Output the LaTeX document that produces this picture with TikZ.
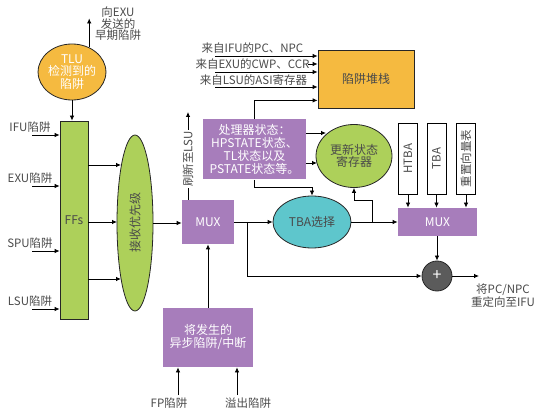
\documentclass[tikz,border=0pt]{standalone}
\usepackage{fontspec}
\setmainfont{Noto Sans CJK SC}
\usetikzlibrary{arrows.meta,shapes.geometric}
\definecolor{trapgold}{HTML}{F5BA40}
\definecolor{leafgreen}{HTML}{ADD05A}
\definecolor{muxpurple}{HTML}{A77DBB}
\definecolor{tbacyan}{HTML}{5EC6CC}
\definecolor{plusgray}{HTML}{5B5B5B}
\definecolor{textgray}{HTML}{4A4A4A}
\tikzset{
  lbl/.style={text=textgray, font=\fontsize{11.5}{11.5}\selectfont, align=center, inner sep=0pt},
  muxbox/.style={fill=muxpurple, text=white, font=\fontsize{12}{13}\selectfont, align=center, inner sep=0pt},
  blob/.style={ellipse, draw=black!85, inner sep=0pt, align=center, font=\fontsize{12}{12.5}\selectfont},
  regbox/.style={draw=black, fill=white, rotate=90, minimum width=71pt, minimum height=19pt, inner sep=0pt, text=textgray, font=\fontsize{11.5}{12}\selectfont},
}
\begin{document}
\begin{tikzpicture}[x=1pt,y=-1pt,>={Latex[length=5pt,width=4.5pt]},line width=0.8pt]
\useasboundingbox (0,0) rectangle (541,414);
% TLU and FFs
\node[blob, fill=trapgold, text=white, minimum width=58pt, minimum height=56pt] (tlu) at (72,72) {TLU\\检测到的\\陷阱};
\node[lbl] (toexu) at (118,24) {向EXU\\发送的\\早期陷阱};
\draw[->] (tlu.55) -- ++(0,-29);
\node[draw=black!85, fill=leafgreen, minimum width=28pt, minimum height=198pt, inner sep=0pt, text=textgray, font=\fontsize{12}{12}\selectfont] (ffs) at (74,220) {FFs};
\draw[->] (tlu.south) -- (tlu.south |- ffs.north);
% trap inputs
\foreach \n/\y in {IFU/135,EXU/186,SPU/251,LSU/309}{
  \node[lbl] (in\n) at (30,\y-8) {\n 陷阱};
  \coordinate (tail\n) at (32,\y);
  \draw[->] (tail\n) -- (ffs.west |- tail\n);
}
% priority
\node[blob, fill=leafgreen, minimum width=36pt, minimum height=176pt] (prio) at (135,223) {};
\node[lbl, rotate=90, font=\fontsize{12}{12}\selectfont] (priolbl) at (prio.center) {接收优先级};
\foreach \y/\xe in {165/121,222/117,279/121}{
  \draw[->] (ffs.east |- 0,\y) -- (\xe,\y);
}
% first MUX
\node[muxbox, minimum width=52pt, minimum height=44pt] (muxa) at (208,222) {MUX};
\draw[->] (prio.east) -- (prio.east -| muxa.west);
\coordinate (lsutip) at (188,112);
\draw[->] (muxa.north -| lsutip) -- (lsutip);
\node[lbl, rotate=90, fill=white, inner sep=1pt] (lsulbl) at (188,159) {刷新至LSU};
% async traps
\node[muxbox, minimum width=90pt, minimum height=59pt] (async) at (208,337.5) {将发生的\\异步陷阱/中断};
\draw[->] (async.north) -- (muxa.south);
\node[lbl] (fp) at (169,403) {FP陷阱};
\node[lbl] (ovf) at (248,403) {溢出陷阱};
\coordinate (fptail) at (178,395);
\coordinate (ovftail) at (237,395);
\draw[->] (fptail) -- (fptail |- async.south);
\draw[->] (ovftail) -- (ovftail |- async.south);
% processor state and trap stack
\node[muxbox, minimum width=103pt, minimum height=60pt] (state) at (254.5,149.5) {处理器状态：\\HPSTATE状态、\\TL状态以及\\PSTATE状态等。};
\node[draw=black!85, fill=trapgold, minimum width=96pt, minimum height=58pt, inner sep=0pt, text=textgray, font=\fontsize{12}{12}\selectfont] (stack) at (366,79) {陷阱堆栈};
\node[lbl] (fromifu) at (252.5,48) {来自IFU的PC、NPC};
\node[lbl] (fromexu) at (252.5,64) {来自EXU的CWP、CCR};
\node[lbl] (fromlsu) at (253.5,80) {来自LSU的ASI寄存器};
\foreach \y/\xs in {56/215,64/308,72/215,87/215}{
  \draw[->] (\xs,\y) -- (stack.west |- 0,\y);
}
\draw[->] (state.north) |- ([yshift=8pt]stack.south west);
% update and TBA select
\node[blob, fill=leafgreen, text=textgray, minimum width=76pt, minimum height=63pt] (update) at (354,156) {更新状态\\寄存器};
\draw[->] (state.east |- 0,133) -- (326,133);
\draw[->] (state.east |- 0,163) -- (317,163);
\node[blob, fill=tbacyan, text=textgray, minimum width=78pt, minimum height=52pt] (tba) at (312,222) {TBA选择};
\draw[->] (state.south) -- ++(0,8) -| (tba.north);
\draw[->] (muxa.east) -- (tba.west);
\coordinate (splita) at (247,222);
% second MUX
\node[muxbox, minimum width=79pt, minimum height=28pt] (muxb) at (437.5,222) {MUX};
\draw[->] (tba.east) -- (muxb.west);
\coordinate (splitb) at (372,222);
\draw[->] (splitb) -- ++(0,-22) -| (update.south);
\node[regbox] (htba) at (408,158.5) {HTBA};
\node[regbox] (tbareg) at (436.5,158.5) {TBA};
\node[regbox] (resetvec) at (466,158.5) {重置向量表};
\foreach \r in {htba,tbareg,resetvec}{
  \draw[->] (\r.west) -- (\r.west |- muxb.north);
}
% adder and output
\node[circle, draw=black!85, fill=plusgray, minimum size=30pt, inner sep=0pt, text=white, font=\fontsize{16}{16}\selectfont] (plus) at (437,276) {+};
\draw[->] (muxb.south -| plus.north) -- (plus.north);
\draw[->] (splita) |- (plus.west);
\coordinate (outtip) at (479,276);
\draw[->] (plus.east) -- (outtip);
\node[lbl] (redirect) at (503,296) {将PC/NPC\\重定向至IFU};
\end{tikzpicture}
\end{document}
